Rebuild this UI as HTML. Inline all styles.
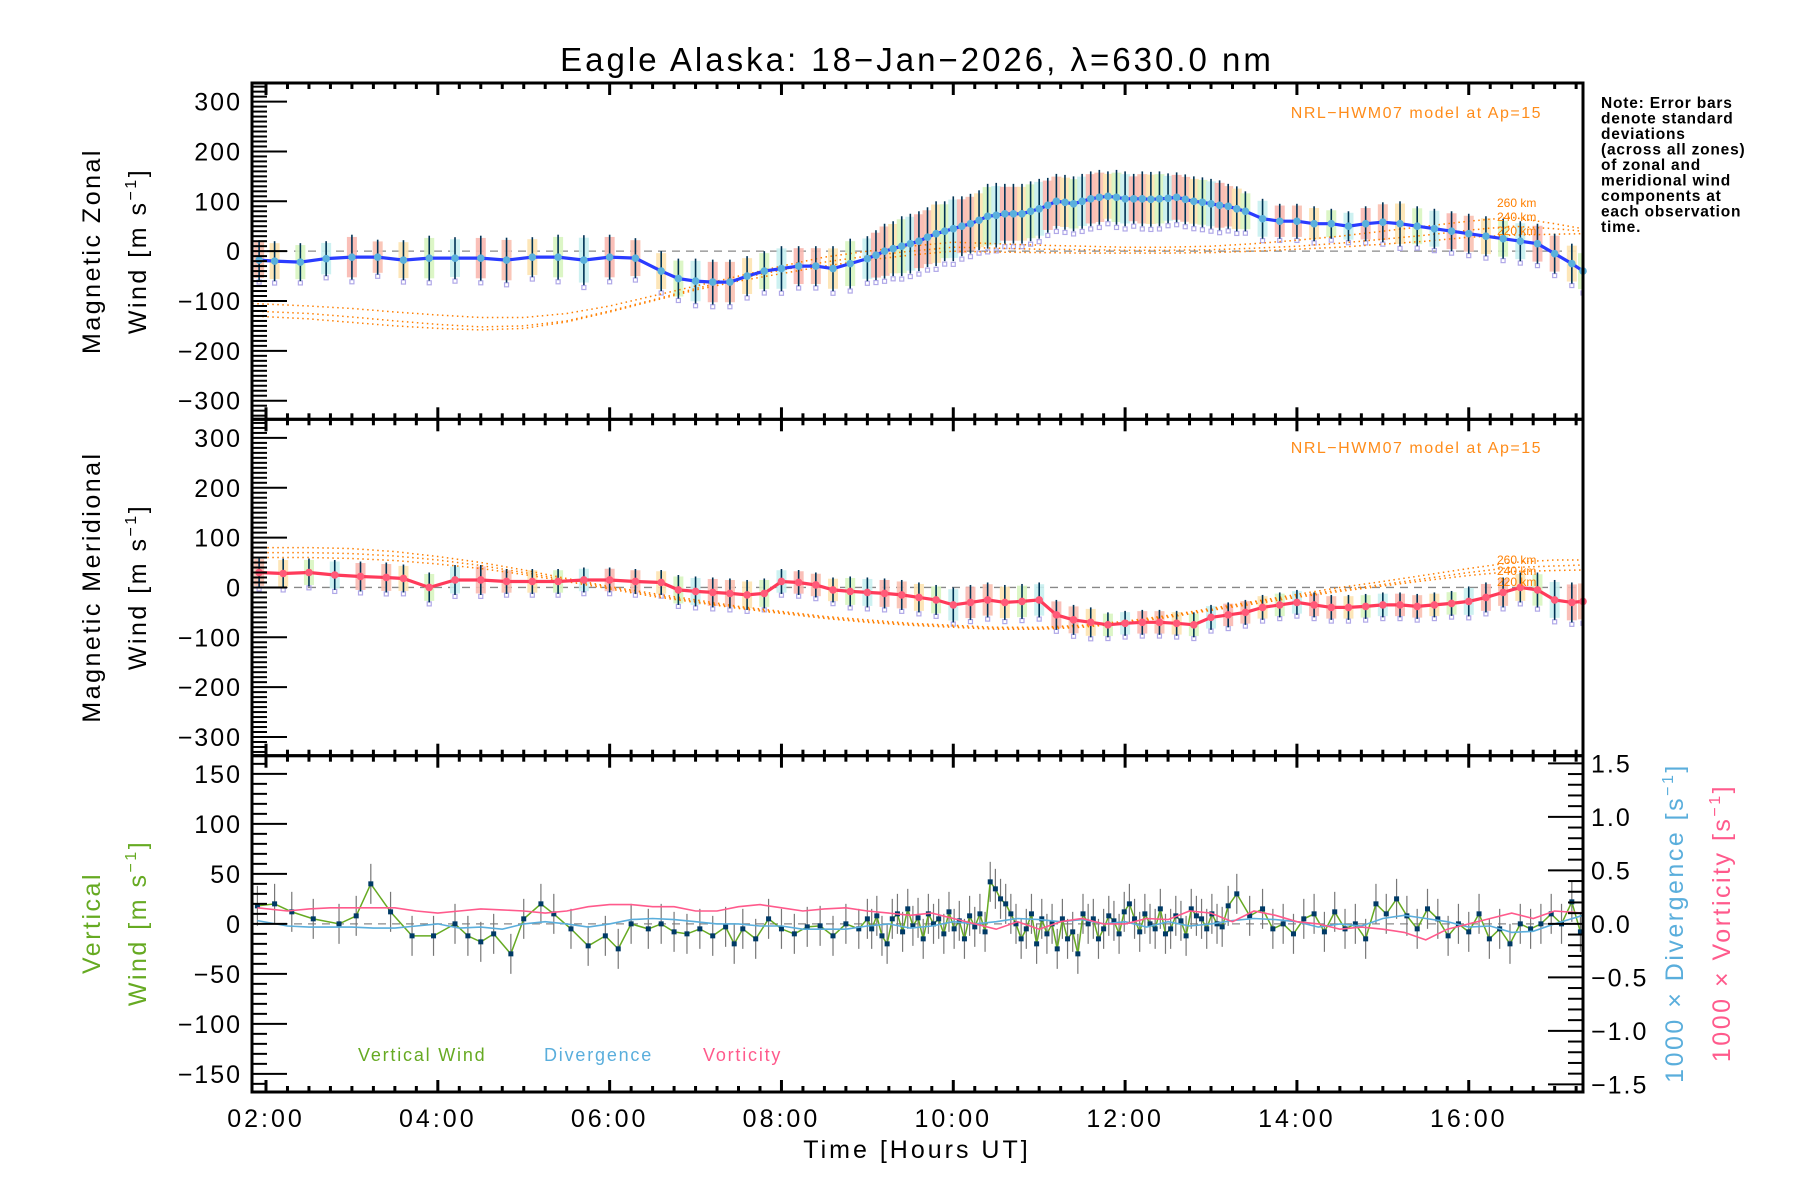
<!DOCTYPE html>
<html><head><meta charset="utf-8"><style>
html,body{margin:0;padding:0;background:#fff;}
svg{display:block;font-family:"Liberation Sans",sans-serif;}
</style></head><body>
<svg id="chart" width="1800" height="1200" viewBox="0 0 1800 1200" xmlns="http://www.w3.org/2000/svg">
<rect width="1800" height="1200" fill="#fff"/>
<text x="917" y="71" font-size="33" letter-spacing="3" text-anchor="middle">Eagle Alaska: 18−Jan−2026, λ=630.0 nm</text>
<g font-size="25" letter-spacing="2.5">
<text transform="translate(100,251) rotate(-90)" text-anchor="middle">Magnetic Zonal</text>
<text transform="translate(146,251) rotate(-90)" text-anchor="middle">Wind [m s<tspan dy="-10" font-size="16">−1</tspan><tspan dy="10">]</tspan></text>
</g>
<g font-size="25" letter-spacing="2.5">
<text transform="translate(100,587) rotate(-90)" text-anchor="middle">Magnetic Meridional</text>
<text transform="translate(146,587) rotate(-90)" text-anchor="middle">Wind [m s<tspan dy="-10" font-size="16">−1</tspan><tspan dy="10">]</tspan></text>
</g>
<g font-size="25" letter-spacing="2.5" fill="#66aa22">
<text transform="translate(100,923) rotate(-90)" text-anchor="middle">Vertical</text>
<text transform="translate(146,923) rotate(-90)" text-anchor="middle">Wind [m s<tspan dy="-10" font-size="16">−1</tspan><tspan dy="10">]</tspan></text>
</g>
<text transform="translate(1683,923) rotate(-90)" text-anchor="middle" font-size="25" letter-spacing="2.5" fill="#5aaedc">1000 × Divergence [s<tspan dy="-10" font-size="16">−1</tspan><tspan dy="10">]</tspan></text>
<text transform="translate(1730,923) rotate(-90)" text-anchor="middle" font-size="25" letter-spacing="2.5" fill="#ff5a8c">1000 × Vorticity [s<tspan dy="-10" font-size="16">−1</tspan><tspan dy="10">]</tspan></text>
<text x="917" y="1158" font-size="25" letter-spacing="3" text-anchor="middle">Time [Hours UT]</text>
<g font-size="15.5" font-weight="bold" letter-spacing="0.8">
<text x="1601" y="108">Note: Error bars</text>
<text x="1601" y="123.5">denote standard</text>
<text x="1601" y="139">deviations</text>
<text x="1601" y="154.5">(across all zones)</text>
<text x="1601" y="170">of zonal and</text>
<text x="1601" y="185.5">meridional wind</text>
<text x="1601" y="201">components at</text>
<text x="1601" y="216.5">each observation</text>
<text x="1601" y="232">time.</text>
</g>
<g id="plots"></g>
</svg>
<script>
// ---- data ----
const zonT=[1.92,2.1,2.4,2.7,3.0,3.3,3.6,3.9,4.2,4.5,4.8,5.1,5.4,5.7,6.0,6.3,6.6,6.8,7.0,7.2,7.4,7.6,7.8,8.0,8.2,8.4,8.6,8.8,9.0,9.1,9.2,9.3,9.4,9.5,9.6,9.7,9.8,9.9,10.0,10.1,10.2,10.3,10.4,10.5,10.6,10.7,10.8,10.9,11.0,11.1,11.2,11.3,11.4,11.5,11.6,11.7,11.8,11.9,12.0,12.1,12.2,12.3,12.4,12.5,12.6,12.7,12.8,12.9,13.0,13.1,13.2,13.3,13.4,13.6,13.8,14.0,14.2,14.4,14.6,14.8,15.0,15.2,15.4,15.6,15.8,16.0,16.2,16.4,16.6,16.8,17.0,17.2,17.33];
const zonV=[-18,-20,-22,-15,-12,-12,-18,-14,-14,-14,-18,-12,-12,-18,-12,-14,-40,-55,-60,-62,-62,-50,-40,-35,-30,-30,-35,-25,-15,-8,0,5,10,15,20,28,35,40,45,50,55,62,70,72,75,75,75,80,85,92,100,98,95,100,105,108,110,108,105,105,105,104,105,106,108,104,100,98,95,92,90,85,80,65,60,60,55,55,50,55,58,55,50,45,40,35,30,25,20,15,-5,-25,-40];
const zonSD=[40,40,38,35,45,35,40,45,42,45,45,40,45,50,45,40,40,40,45,45,45,40,40,45,40,40,45,50,45,50,55,55,60,60,60,60,65,60,65,60,60,60,65,65,60,60,60,60,60,55,55,55,55,55,55,55,50,55,55,50,55,55,55,50,50,50,50,50,50,50,45,45,40,40,35,35,35,30,30,35,40,45,40,40,40,40,40,40,40,40,40,40,40];
const merT=[1.92,2.2,2.5,2.8,3.1,3.4,3.6,3.9,4.2,4.5,4.8,5.1,5.4,5.7,6.0,6.3,6.6,6.8,7.0,7.2,7.4,7.6,7.8,8.0,8.2,8.4,8.6,8.8,9.0,9.2,9.4,9.6,9.8,10.0,10.2,10.4,10.6,10.8,11.0,11.2,11.4,11.6,11.8,12.0,12.2,12.4,12.6,12.8,13.0,13.2,13.4,13.6,13.8,14.0,14.2,14.4,14.6,14.8,15.0,15.2,15.4,15.6,15.8,16.0,16.2,16.4,16.6,16.8,17.0,17.2,17.33];
const merV=[30,28,30,25,22,20,18,0,15,15,12,12,12,15,15,12,10,-5,-8,-10,-12,-15,-12,12,10,5,-5,-8,-10,-12,-15,-20,-25,-35,-30,-25,-30,-28,-25,-55,-65,-70,-75,-72,-70,-70,-72,-75,-60,-55,-50,-40,-35,-30,-35,-40,-40,-38,-35,-35,-38,-35,-32,-28,-20,-10,0,-5,-25,-30,-28];
const merSD=[30,30,28,30,30,30,28,30,30,30,25,25,25,25,25,25,25,30,30,30,30,30,30,25,25,25,25,30,30,30,30,30,30,35,35,35,35,35,35,30,30,30,25,25,25,25,25,25,25,25,25,25,25,25,25,25,25,25,25,25,25,25,25,30,30,30,30,35,40,40,40];
const modH=[1.84,2.5,3,3.5,4,4.5,5,5.5,6,6.5,7,7.5,8,8.5,9,9.5,10,10.5,11,11.5,12,12.5,13,13.5,14,14.5,15,15.5,16,16.5,17,17.33];
const zon260=[-105,-110,-115,-122,-128,-133,-133,-125,-110,-90,-70,-50,-30,-12,0,10,18,15,12,10,8,8,10,15,22,30,40,50,60,68,55,45];
const zon240=[-120,-125,-132,-140,-147,-152,-150,-140,-120,-98,-75,-55,-38,-22,-10,0,8,6,4,3,2,2,3,6,10,16,24,32,42,50,45,40];
const zon220=[-130,-136,-143,-150,-155,-158,-155,-142,-122,-100,-78,-60,-45,-30,-18,-8,0,-2,-3,-4,-4,-4,-3,0,4,8,14,20,28,32,34,35];
const mer260=[80,80,78,72,62,50,35,18,2,-12,-25,-38,-48,-58,-65,-72,-76,-80,-80,-76,-68,-56,-42,-28,-14,0,12,25,38,50,55,55];
const mer240=[70,70,68,63,55,44,30,15,0,-15,-28,-40,-50,-60,-68,-74,-78,-82,-82,-78,-70,-58,-44,-30,-17,-5,6,18,30,40,43,45];
const mer220=[60,60,58,54,47,38,26,12,-3,-18,-30,-42,-52,-62,-70,-76,-80,-84,-84,-80,-72,-60,-46,-33,-20,-8,3,14,24,32,34,35];
const vertT=[1.9,2.1,2.3,2.55,2.85,3.05,3.22,3.45,3.7,3.95,4.2,4.35,4.5,4.65,4.85,5.0,5.2,5.35,5.55,5.75,5.95,6.1,6.25,6.45,6.6,6.75,6.9,7.05,7.2,7.35,7.45,7.55,7.7,7.85,8.0,8.15,8.3,8.45,8.6,8.75,8.9,9.0,9.05,9.11,9.17,9.23,9.29,9.35,9.41,9.47,9.53,9.59,9.65,9.71,9.77,9.83,9.89,9.95,10.01,10.07,10.13,10.19,10.25,10.31,10.37,10.43,10.49,10.55,10.61,10.67,10.73,10.79,10.85,10.91,10.97,11.03,11.09,11.15,11.21,11.27,11.33,11.39,11.45,11.51,11.57,11.63,11.69,11.75,11.81,11.87,11.93,11.99,12.05,12.11,12.17,12.23,12.29,12.35,12.41,12.47,12.53,12.59,12.65,12.71,12.77,12.83,12.89,12.95,13.01,13.07,13.13,13.2,13.3,13.45,13.6,13.72,13.84,13.96,14.08,14.2,14.32,14.44,14.56,14.68,14.8,14.92,15.04,15.16,15.28,15.4,15.52,15.64,15.76,15.88,16.0,16.12,16.24,16.36,16.48,16.6,16.72,16.84,16.96,17.08,17.2,17.3];
const vertV=[18,20,12,5,0,8,40,12,-12,-12,0,-12,-18,-10,-30,5,20,10,-5,-22,-12,-25,0,-5,0,-8,-10,-5,-12,-3,-20,-5,-15,5,-5,-10,-3,-2,-12,0,-5,5,-5,8,-12,-20,5,10,-8,15,-2,6,-15,10,0,5,-10,12,-5,3,-15,8,-3,10,-8,42,35,25,20,10,0,-15,-5,10,-20,5,-10,0,-25,5,-15,-8,-30,10,0,5,-15,-5,8,3,-10,12,20,5,-8,10,0,-5,15,-10,-5,8,3,-12,15,8,5,-5,10,0,-3,18,30,8,15,-5,0,-10,5,10,-8,12,-5,0,-15,20,10,25,8,-5,15,5,-12,0,-8,10,-15,-5,-20,0,-5,0,10,0,22,-8,-35,15];
const divT=[1.9,2.25,2.5,2.75,3.0,3.25,3.5,3.75,4.0,4.25,4.5,4.75,5.0,5.25,5.5,5.75,6.0,6.25,6.5,6.75,7.0,7.25,7.5,7.75,8.0,8.25,8.5,8.75,9.0,9.25,9.5,9.75,10.0,10.25,10.5,10.75,11.0,11.25,11.5,11.75,12.0,12.25,12.5,12.75,13.0,13.25,13.5,13.75,14.0,14.25,14.5,14.75,15.0,15.25,15.5,15.75,16.0,16.25,16.5,16.75,17.0,17.33];
const divV=[0.03,-0.02,-0.03,-0.03,-0.03,-0.04,-0.04,-0.02,0.0,-0.04,-0.03,-0.05,0.0,0.02,0.0,-0.03,0.0,0.04,0.05,0.04,0.02,0.0,0.0,-0.02,-0.02,-0.05,-0.05,-0.05,-0.02,0.0,-0.04,-0.02,0.02,0.0,0.02,0.05,0.04,0.02,0.04,0.0,0.02,-0.03,0.02,-0.02,0.0,0.03,0.05,0.04,0.02,-0.03,0.0,-0.02,0.05,0.08,0.05,0.02,-0.03,-0.02,-0.08,-0.07,0.0,0.08];
const vorV=[0.15,0.12,0.14,0.15,0.15,0.15,0.15,0.12,0.1,0.12,0.14,0.13,0.12,0.1,0.12,0.16,0.18,0.18,0.16,0.16,0.12,0.12,0.16,0.18,0.15,0.12,0.14,0.15,0.12,0.1,0.08,0.1,0.05,0.0,-0.05,0.02,-0.05,0.02,0.05,0.0,0.0,0.05,0.04,0.12,0.1,0.02,0.12,0.08,0.02,0.0,-0.05,-0.03,-0.05,-0.08,-0.15,-0.05,0.0,0.05,0.1,0.05,0.12,0.1];
const xTickLabels=["02:00","04:00","06:00","08:00","10:00","12:00","14:00","16:00"];
const xTickHours=[2,4,6,8,10,12,14,16];
const windTicks=[-300,-200,-100,0,100,200,300];
const vertTicks=[-150,-100,-50,0,50,100,150];
const rateTicks=[-1.5,-1.0,-0.5,0.0,0.5,1.0,1.5];

// ---- geometry ----
const NS='http://www.w3.org/2000/svg';
const L=252,R=1583,T0=83,T1=419.3,T2=755.7,T3=1092;
const tMin=1.837,tMax=17.33;
const X=t=>L+(t-tMin)/(tMax-tMin)*(R-L);
const yWind=(top)=>v=>top+(T1-T0)/2-v*0.4985;
const Y1=yWind(T0),Y2=yWind(T1);
const Y3=v=>(T2+T3)/2-v*1.0;
const Y3r=v=>(T2+T3)/2-v*107;
const g=document.getElementById('plots');
function el(tag,attrs,parent){const e=document.createElementNS(NS,tag);for(const k in attrs)e.setAttribute(k,attrs[k]);(parent||g).appendChild(e);return e;}
function grp(name){const e=el('g',{});return e;}
const clipL=el('clipPath',{id:'c1'});el('rect',{x:L,y:T0,width:R-L,height:T3-T0},clipL);
function poly(xs,ys,Yf,attrs,parent){const pts=xs.map((t,i)=>X(t).toFixed(1)+','+Yf(ys[i]).toFixed(1)).join(' ');return el('polyline',Object.assign({points:pts,fill:'none'},attrs),parent);}

// zero lines
[Y1,Y2,Y3].forEach(Yf=>{const z=grp('zero-line');el('line',{x1:L,x2:R,y1:Yf(0),y2:Yf(0),stroke:'#888','stroke-dasharray':'8,6','stroke-width':1.3},z);});

const pastel=['#f9c0b0','#fde3b0','#d8f5c0','#c8f0f0','#f9b8b0'];
function windPanel(T,V,SD,Yf,lineCol,dotCol,models,name){
  const bg=grp(name+'-zone-spread');bg.setAttribute('clip-path','url(#c1)');
  T.forEach((t,i)=>{
    const r=el('rect',{x:X(t)-5,y:Yf(V[i]+SD[i]*0.9),width:10,height:SD[i]*0.9*2*0.4985,fill:pastel[i%5],opacity:0.9},bg);
    
    
    const s=el('rect',{x:X(t)-2,y:Yf(V[i]-SD[i]*1.1)-2,width:4,height:4,fill:'none',stroke:'#b0a8e8','stroke-width':1.2},bg);
    
    
  });
  const mg=grp(name+'-hwm-model');mg.setAttribute('clip-path','url(#c1)');
  models.forEach(m=>{const p=poly(modH,m,Yf,{stroke:'#ff7f00','stroke-width':1.5,'stroke-dasharray':'1.5,3.5'},mg);});
  const eb=grp(name+'-error-bars');
  T.forEach((t,i)=>{const l=el('line',{x1:X(t),x2:X(t),y1:Yf(V[i]-SD[i]),y2:Yf(V[i]+SD[i]),stroke:'#003355','stroke-width':1.6},eb);});
  const lg=grp(name+'-mean-line');
  poly(T,V,Yf,{stroke:lineCol,'stroke-width':3.2},lg);
  T.forEach((t,i)=>{const c=el('circle',{cx:X(t),cy:Yf(V[i]),r:3.8,fill:dotCol},lg);});
}
windPanel(zonT,zonV,zonSD,Y1,'#2a3cff','#5ab0dc',[zon260,zon240,zon220],'zonal');
windPanel(merT,merV,merSD,Y2,'#ff3a5a','#ff5a78',[mer260,mer240,mer220],'meridional');

// model labels
[[207,'260 km'],[221,'240 km'],[235,'220 km'],[564,'260 km'],[575,'240 km'],[586,'220 km']].forEach(([y,s])=>{const t=el('text',{x:1497,y:y,'font-size':12,fill:'#ff7f00'});t.textContent=s;});
[118,453].forEach(y=>{const t=el('text',{x:1542,y:y,'font-size':16,'letter-spacing':1.5,fill:'#ff8c1a','text-anchor':'end'});t.textContent='NRL−HWM07 model at Ap=15';});

// vertical panel
{
  const vg=grp('vertical-wind-series');
  vertT.forEach((t,i)=>{const l=el('line',{x1:X(t),x2:X(t),y1:Y3(vertV[i]-20),y2:Y3(vertV[i]+20),stroke:'#777','stroke-width':1.2},vg);});
  const dg=grp('divergence-line');poly(divT,divV,Y3r,{stroke:'#5aaedc','stroke-width':1.6},dg);
  const og=grp('vorticity-line');poly(divT,vorV,Y3r,{stroke:'#ff5a8c','stroke-width':1.6},og);
  poly(vertT,vertV,Y3,{stroke:'#66aa22','stroke-width':1.5},vg);
  vertT.forEach((t,i)=>{const r=el('rect',{x:X(t)-2.5,y:Y3(vertV[i])-2.5,width:5,height:5,fill:'#003a66'},vg);});
}
// legend
[['Vertical Wind',358,'#66aa22','legend-vertical-wind'],['Divergence',544,'#5aaedc','legend-divergence'],['Vorticity',703,'#ff5a8c','legend-vorticity']].forEach(([s,x,c,n])=>{const t=el('text',{x:x,y:1061,'font-size':18,'letter-spacing':1.8,fill:c});t.textContent=s;});

// axes
function frame(top,bot,name){const a=grp(name);el('rect',{x:L,y:top,width:R-L,height:bot-top,fill:'none',stroke:'#000','stroke-width':3},a);return a;}
function xTicks(a,top,bot){
  for(let m=Math.ceil(tMin*4);m<=Math.floor(tMax*4);m++){const t=m/4,x=X(t),maj=(m%8===0);const len=maj?12:6;
    el('line',{x1:x,x2:x,y1:top,y2:top+len,stroke:'#000','stroke-width':3},a);
    el('line',{x1:x,x2:x,y1:bot,y2:bot-len,stroke:'#000','stroke-width':3},a);}}
function yTicksLeft(a,Yf,top,bot,major,minor,labels,fmt){
  for(let v=-1000;v<=1000;v+=minor){const y=Yf(v);if(y<top+1||y>bot-1)continue;const isMaj=Math.abs(Math.round(v/major)*major-v)<1e-6;
    el('line',{x1:L,x2:L+(isMaj?35:15),y1:y,y2:y,stroke:'#000','stroke-width':2},a);}
  labels.forEach(v=>{const t=el('text',{x:L-10,y:Yf(v)+9,'font-size':25,'letter-spacing':2,'text-anchor':'end'},a);t.textContent=fmt(v);});}
const neg=s=>s.replace('-','−');
const a1=frame(T0,T1,'zonal-axes'),a2=frame(T1,T2,'meridional-axes'),a3=frame(T2,T3,'vertical-axes');
[[a1,T0,T1],[a2,T1,T2],[a3,T2,T3]].forEach(([a,t,b])=>xTicks(a,t,b));
yTicksLeft(a1,Y1,T0,T1,100,10,windTicks,v=>neg(String(v)));
yTicksLeft(a2,Y2,T1,T2,100,10,windTicks,v=>neg(String(v)));
yTicksLeft(a3,Y3,T2,T3,50,10,vertTicks,v=>neg(String(v)));
for(let k=-16;k<=16;k++){const v=k/10,y=Y3r(v);if(y<T2+1||y>T3-1)continue;const maj=k%5===0;el('line',{x1:R,x2:R-(maj?35:15),y1:y,y2:y,stroke:'#000','stroke-width':2},a3);}
rateTicks.forEach(v=>{const t=el('text',{x:R+8,y:Y3r(v)+9,'font-size':25,'letter-spacing':2},a3);t.textContent=neg(v.toFixed(1));});
xTickHours.forEach((h,i)=>{const t=el('text',{x:X(h),y:1127,'font-size':25,'letter-spacing':3,'text-anchor':'middle'},a3);t.textContent=xTickLabels[i];});
</script>
</body></html>
